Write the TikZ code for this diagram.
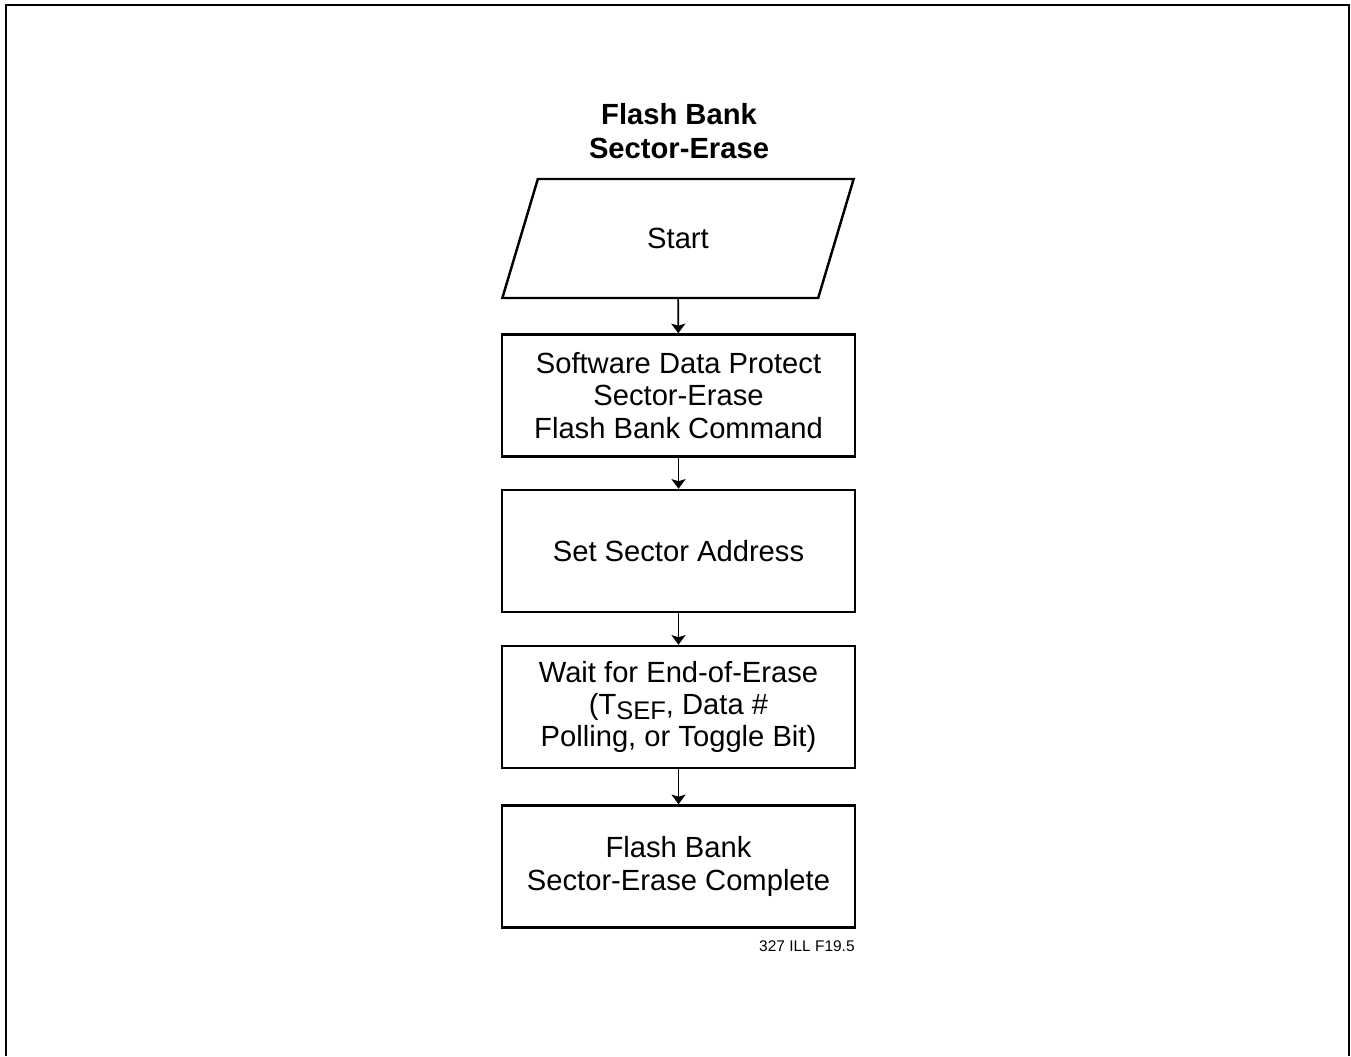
\documentclass[tikz,border=0pt]{standalone}
\usepackage{fontspec}
\setmainfont{Liberation Sans}
\usetikzlibrary{shapes.geometric, arrows.meta}

\begin{document}
\begin{tikzpicture}[
    box/.style={draw, line width=1.4pt, rectangle, minimum width=7.06cm, minimum height=2.44cm, align=center, font=\fontsize{16.6}{18.3}\selectfont},
    io/.style={draw, line width=1.4pt, trapezium, trapezium left angle=74, trapezium right angle=106, trapezium stretches=true, minimum width=7.04cm, minimum height=2.38cm, font=\fontsize{16.6}{18.3}\selectfont},
    flow/.style={line width=0.9pt, -{Stealth[length=5.5pt, width=8pt, inset=1.2pt]}}
]
\useasboundingbox (0,0) rectangle (27.02,-21.12);

% Frame
\draw[line width=1.3pt] (0.12,-21.12) -- (0.12,-0.1) -- (26.98,-0.1) -- (26.98,-21.12);

% Nodes
\node[align=center, font=\bfseries\fontsize{16.6}{19}\selectfont] (title) at (13.58, -2.62) {Flash Bank\\Sector-Erase};
\node[io] (start) at (13.56, -4.77) {Start};
\node[box] (cmd) at (13.57, -7.91) {Software Data Protect\\Sector-Erase\\Flash Bank Command};
\node[box] (addr) at (13.57, -11.02) {Set Sector Address};
\node[box] (wait) at (13.57, -14.14) {Wait for End-of-Erase\\(T\raisebox{-0.35ex}{\fontsize{14.5}{14.5}\selectfont SEF}, Data \#\\Polling, or Toggle Bit)};
\node[box] (done) at (13.57, -17.33) {Flash Bank\\Sector-Erase Complete};
\node[anchor=base east, font=\fontsize{8.8}{10}\selectfont, inner sep=0pt] (ref) at (17.1, -19.02) {327 ILL F19.5};

% Edges
\draw[flow] (start) -- (cmd);
\draw[flow] (cmd) -- (addr);
\draw[flow] (addr) -- (wait);
\draw[flow] (wait) -- (done);

\end{tikzpicture}
\end{document}
